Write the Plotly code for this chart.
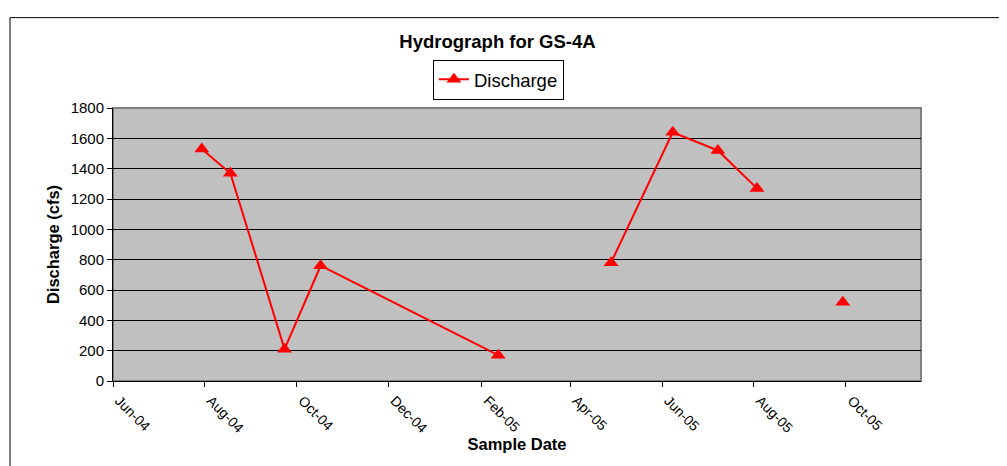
import plotly.graph_objects as go

# Sample data (None = missing sample, breaks the line)
sample_dates = [
    "2004-07-30", "2004-08-18", "2004-09-23", "2004-10-17", "2005-02-12",
    "2005-03-20",
    "2005-04-28", "2005-06-08", "2005-07-08", "2005-08-03",
    "2005-09-01",
    "2005-09-29",
]
discharge = [1530, 1370, 210, 760, 170, None, 780, 1640, 1520, 1270, None, 520]

x_range = ["2004-06-01", "2005-11-20"]
y_ticks = list(range(0, 1801, 200))

fig = go.Figure()

fig.add_trace(go.Scatter(
    x=sample_dates,
    y=discharge,
    mode='lines+markers',
    name='Discharge',
    line=dict(color='#FF0000', width=2),
    marker=dict(symbol='triangle-up', size=13, color='#FF0000'),
    connectgaps=False,
))

# Excel-like plot area border and chart border
fig.add_shape(type='rect', xref='paper', yref='paper', x0=0, y0=0, x1=1, y1=1,
              line=dict(color='#808080', width=2), layer='below')
fig.add_shape(type='rect', xref='paper', yref='paper', x0=-0.1275, y0=-0.4, x1=1.1015, y1=1.331,
              line=dict(color='#000000', width=1), layer='below')

# page body has an 8px margin, so the figure is sized/offset to compensate
fig.update_layout(
    width=999,
    height=458,
    margin=dict(l=105, r=86, t=100, b=85),
    paper_bgcolor='white',
    plot_bgcolor='#C0C0C0',
    font=dict(family='Liberation Sans, Arial, sans-serif', color='black'),
    title=dict(
        text='<b>Hydrograph for GS-4A</b>',
        x=0.49, xanchor='center', xref='container',
        y=1 - 34 / 458, yanchor='middle', yref='container',
        font=dict(size=18.5),
    ),
    showlegend=True,
    legend=dict(
        x=0.477, xanchor='center', y=1.03, yanchor='bottom',
        orientation='h',
        bgcolor='white', bordercolor='black', borderwidth=1,
        font=dict(size=18.5),
        tracegroupgap=0,
    ),
    xaxis=dict(
        type='date',
        range=x_range,
        dtick='M2',
        tick0='2004-06-01',
        tickformat='%b-%y',
        tickangle=45,
        tickfont=dict(size=14),
        ticklabelshift=6,
        ticks='outside', ticklen=5, tickcolor='black',
        showgrid=False,
        showline=True, linecolor='black', linewidth=1,
        zeroline=False,
        title=dict(text='<b>Sample Date</b>', font=dict(size=16.5), standoff=2),
    ),
    yaxis=dict(
        range=[0, 1800],
        tickvals=y_ticks,
        tickfont=dict(size=15),
        ticks='outside', ticklen=5, tickcolor='black',
        showgrid=True, gridcolor='#000000', gridwidth=1,
        showline=True, linecolor='black', linewidth=1,
        zeroline=False,
        title=dict(text='<b>Discharge (cfs)</b>', font=dict(size=16.5), standoff=6),
    ),
)

fig.write_html("out.html")
